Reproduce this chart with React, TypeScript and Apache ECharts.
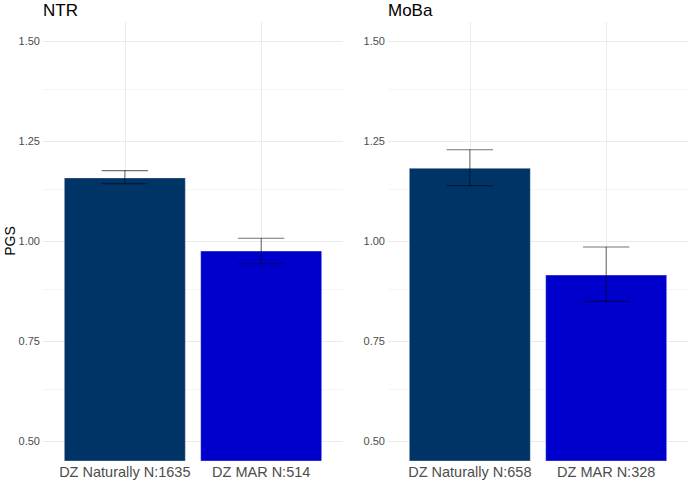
import React, { useEffect, useRef } from "react";
import * as echarts from "echarts";

const panels = ["NTR", "MoBa"];
const categoriesNTR = ["DZ Naturally N:1635", "DZ MAR N:514"];
const categoriesMoBa = ["DZ Naturally N:658", "DZ MAR N:328"];
const meansNTR = [1.159, 0.976];
const lowerNTR = [1.143, 0.943];
const upperNTR = [1.176, 1.007];
const meansMoBa = [1.183, 0.916];
const lowerMoBa = [1.138, 0.849];
const upperMoBa = [1.228, 0.985];
const barColors = ["#003366", "#0000CD"];
const yMajorTicks = [0.5, 0.75, 1.0, 1.25, 1.5];
const yMinorTicks = [0.625, 0.875, 1.125, 1.375];

const FONT = "Liberation Sans, Arial, sans-serif";

export default function App() {
  const ref = useRef<HTMLDivElement>(null);
  useEffect(() => {
    if (!ref.current) return;
    const chart = echarts.init(ref.current, undefined, { renderer: "svg" });
    const cats = [categoriesNTR, categoriesMoBa];
    const means = [meansNTR, meansMoBa];
    const lows = [lowerNTR, lowerMoBa];
    const highs = [upperNTR, upperMoBa];
    const grids = [
      { left: 43, right: 346, top: 22, bottom: 19 },
      { left: 388, right: 1, top: 22, bottom: 19 },
    ];
    const series: any[] = [];
    [0, 1].forEach((p) => {
      series.push({
        type: "scatter",
        xAxisIndex: p,
        yAxisIndex: p,
        data: [],
        z: 0,
        silent: true,
        markLine: {
          silent: true,
          z: 0,
          symbol: "none",
          label: { show: false },
          animation: false,
          data: [
            ...yMinorTicks.map((v) => ({ yAxis: v, lineStyle: { color: "#f3f3f3", width: 0.8, type: "solid" } })),
            ...yMajorTicks.map((v) => ({ yAxis: v, lineStyle: { color: "#ebebeb", width: 1, type: "solid" } })),
            ...[1, 2].map((v) => ({ xAxis: v, lineStyle: { color: "#ebebeb", width: 1, type: "solid" } })),
          ],
        },
      });
      series.push({
        type: "bar",
        xAxisIndex: p,
        yAxisIndex: p,
        barWidth: 122,
        z: 2,
        data: means[p].map((v, i) => ({
          value: [i + 1, v],
          itemStyle: {
            color: barColors[i],
            borderColor: "rgba(255,255,255,0.35)",
            borderWidth: 1,
          },
        })),
      });
      series.push({
        type: "custom",
        xAxisIndex: p,
        yAxisIndex: p,
        z: 3,
        data: means[p].map((_, i) => [i + 1, lows[p][i], highs[p][i]]),
        renderItem: (params: any, api: any) => {
          const x = api.value(0);
          const lo = api.coord([x, api.value(1)]);
          const hi = api.coord([x, api.value(2)]);
          const half = api.size([0.34, 0])[0] / 2;
          const style = { stroke: "rgba(0,0,0,0.55)", lineWidth: 1.1, fill: null };
          return {
            type: "group",
            children: [
              { type: "line", shape: { x1: lo[0], y1: lo[1], x2: hi[0], y2: hi[1] }, style },
              { type: "line", shape: { x1: lo[0] - half, y1: lo[1], x2: lo[0] + half, y2: lo[1] }, style },
              { type: "line", shape: { x1: hi[0] - half, y1: hi[1], x2: hi[0] + half, y2: hi[1] }, style },
            ],
          };
        },
      });
    });

    chart.setOption({
      animation: false,
      textStyle: { fontFamily: FONT },
      grid: grids,
      xAxis: [0, 1].map((p) => ({
        type: "value",
        gridIndex: p,
        min: 0.4,
        max: 2.6,
        axisLine: { show: false },
        axisTick: { show: false },
        splitLine: { show: false },
        axisLabel: {
          customValues: [1, 2],
          formatter: (v: number) => cats[p][Math.round(v) - 1],
          fontSize: 14.5,
          color: "#4d4d4d",
          margin: 3,
          fontFamily: FONT,
        },
      })),
      yAxis: [0, 1].map((p) => ({
        type: "value",
        gridIndex: p,
        min: 0.45,
        max: 1.5475,
        axisLine: { show: false },
        axisTick: { show: false },
        splitLine: { show: false },
        axisLabel: {
          customValues: yMajorTicks,
          formatter: (v: number) => v.toFixed(2),
          fontSize: 11,
          color: "#4d4d4d",
          margin: 3,
          fontFamily: FONT,
        },
      })),
      graphic: [
        { type: "text", left: 43, top: 2, style: { text: panels[0], fontSize: 17, fill: "#000", fontFamily: FONT } },
        { type: "text", left: 388, top: 2, style: { text: panels[1], fontSize: 17, fill: "#000", fontFamily: FONT } },
        {
          type: "text",
          x: 10,
          y: 241,
          rotation: Math.PI / 2,
          style: { text: "PGS", fontSize: 14, fill: "#000", fontFamily: FONT, align: "center", verticalAlign: "middle" },
        },
      ],
      series,
    });
    return () => chart.dispose();
  }, []);
  return <div ref={ref} style={{ width: 689, height: 480, position: "absolute", left: 0, top: 0 }} />;
}
